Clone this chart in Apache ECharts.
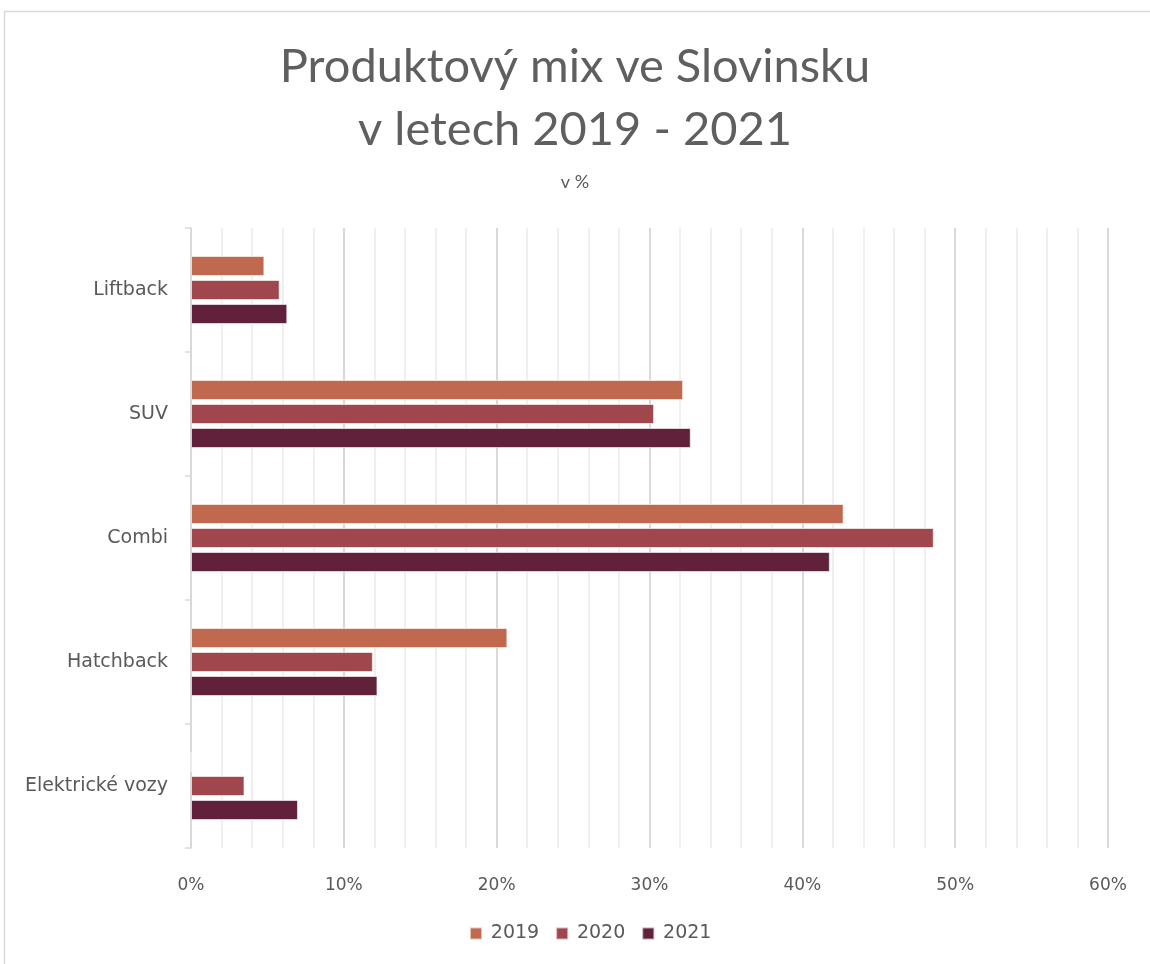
<!DOCTYPE html>
<html><head><meta charset="utf-8">
<script src="https://cdn.jsdelivr.net/npm/echarts@6/dist/echarts.min.js"></script>
<style>html,body{margin:0;padding:0;background:#fff}#c{width:1150px;height:964px}</style>
</head><body><div id="c"></div>
<script>
const categories = ['Liftback', 'SUV', 'Combi', 'Hatchback', 'Elektrické vozy'];
const seriesNames = ['2019', '2020', '2021'];
const v2019 = [4.8, 32.2, 42.7, 20.7, 0];
const v2020 = [5.8, 30.3, 48.6, 11.9, 3.5];
const v2021 = [6.3, 32.7, 41.8, 12.2, 7.0];
const colors = ['#C0694E', '#A0474D', '#61213B'];
const xTicks = [0, 10, 20, 30, 40, 50, 60];

const font = 'Lato, "Open Sans", sans-serif';
const font2 = '"DejaVu Sans", sans-serif';
const chart = echarts.init(document.getElementById('c'));
const vals = [v2019, v2020, v2021];
chart.setOption({
  animation: false,
  graphic: [{type:'rect', shape:{x:4.5,y:11.5,width:1160,height:1000}, style:{fill:'none', stroke:'#d9d9d9', lineWidth:1.5}, silent:true}],
  title: [{
    text: 'Produktový mix ve Slovinsku\nv letech 2019 - 2021', left: 'center', top: 30,
    textStyle: {fontFamily: font, fontSize: 47, fontWeight: 'normal', color: '#5f5f5f', lineHeight: 63}
  }, {
    text: 'v %', left: 'center', top: 168,
    textStyle: {fontFamily: font, fontSize: 18, fontWeight: 'normal', color: '#595959'}
  }],
  legend: {
    bottom: 16, left: 464, itemWidth: 12, itemHeight: 12, itemGap: 16, icon: 'rect',
    formatter: name => '\u2009' + name,
    textStyle: {fontFamily: font2, fontSize: 19, color: '#595959'}, data: seriesNames
  },
  grid: {left: 191, right: 42, top: 228, bottom: 116},
  xAxis: {
    type: 'value', min: 0, max: 60, interval: 10,
    axisLine: {show: false}, axisTick: {show: false},
    axisLabel: {fontFamily: font2, fontSize: 17, color: '#595959', margin: 29, formatter: v => v + '%'},
    splitLine: {lineStyle: {color: '#d9d9d9', width: 2}},
    minorTick: {show: false, splitNumber: 5},
    minorSplitLine: {show: true, lineStyle: {color: '#efefef', width: 2}}
  },
  yAxis: {
    type: 'category', data: categories, inverse: true,
    axisLine: {lineStyle: {color: '#d9d9d9', width: 1.5}},
    axisTick: {show: true, length: 6, lineStyle: {color: '#d9d9d9', width: 1.5}},
    axisLabel: {fontFamily: font2, fontSize: 19, color: '#595959', margin: 23}
  },
  series: seriesNames.map((n, i) => ({
    name: n, type: 'bar', data: vals[i], barWidth: 20, barGap: '20%',
    itemStyle: {color: colors[i], borderColor: 'rgba(255,255,255,0.6)', borderWidth: 1}
  }))
});
</script></body></html>
